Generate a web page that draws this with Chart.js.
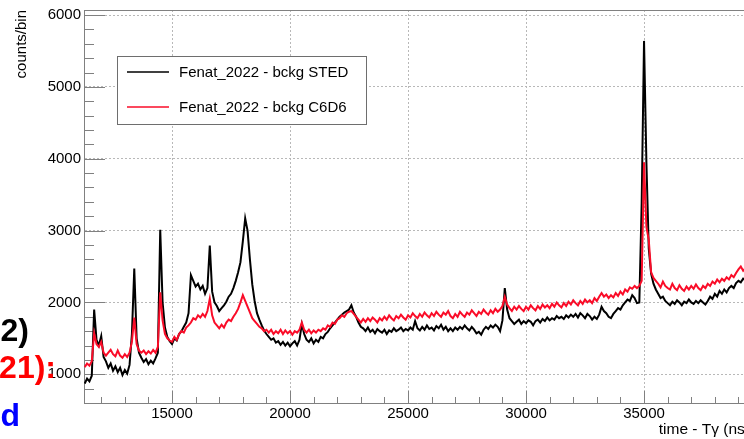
<!DOCTYPE html>
<html>
<head>
<meta charset="utf-8">
<script src="https://cdn.jsdelivr.net/npm/chart.js@4/dist/chart.umd.min.js"></script>
<style>
html, body { margin: 0; padding: 0; overflow: hidden; background: #fff; width: 744px; height: 439px; }
#wrap { position: absolute; left: 0; top: 0; width: 772px; height: 439px; }
.cut { position: absolute; width: 300px; text-align: right; white-space: nowrap;
       font-family: "Liberation Sans", Arial, sans-serif; font-weight: bold; font-size: 32px; line-height: 32px; }
</style>
</head>
<body>
<div id="wrap"><canvas id="myChart" width="772" height="439"></canvas></div>
<div class="cut" style="left:-271px; top:314px; color:#000;">2)</div>
<div class="cut" style="left:-244px; top:351px; color:#ff0000;">21):</div>
<div class="cut" style="left:-280px; top:399px; color:#0000ff;">d</div>
<script>
// histogram binning (ns)
const binStart = 11300;
const binWidth = 100;

// Fenat_2022 - bckg STED, counts per bin, 11300 .. 39500 ns
const stedCounts = [
  870, 940, 900, 980, 1900, 1480, 1400, 1530, 1240, 1180,
  1090, 1150, 1050, 1110, 1030, 1090, 990, 1060, 1010, 1130,
  1560, 2470, 1500, 1300, 1230, 1170, 1210, 1140, 1190, 1150,
  1220, 1300, 3010, 2000, 1650, 1520, 1460, 1420, 1500, 1470,
  1560, 1600, 1660, 1720, 1850, 2380, 2300, 2220, 2260, 2180,
  2230, 2120, 2200, 2790, 2150, 2000, 1950, 1880, 1920, 1960,
  2010, 2080, 2120, 2200, 2300, 2420, 2560, 2850, 3170, 3000,
  2600, 2250, 2020, 1850, 1760, 1680, 1610, 1560, 1520, 1480,
  1500, 1440, 1460, 1410, 1450, 1400, 1440, 1390, 1430, 1460,
  1400, 1480, 1700, 1560, 1480, 1450, 1500, 1430, 1480, 1450,
  1520, 1500, 1560, 1590, 1640, 1680, 1720, 1760, 1800, 1830,
  1860, 1880, 1900, 1960, 1860, 1800, 1720, 1660, 1640, 1600,
  1650, 1590, 1620, 1570, 1630, 1600, 1580, 1620, 1560, 1610,
  1590, 1640, 1600, 1620, 1650, 1600, 1630, 1610, 1650, 1620,
  1740, 1640, 1610, 1660, 1620, 1680, 1630, 1650, 1610, 1670,
  1640, 1690, 1620, 1660, 1600, 1640, 1600, 1650, 1620, 1660,
  1630, 1680, 1640, 1610, 1660, 1620, 1570, 1590, 1550, 1620,
  1660, 1630, 1680, 1650, 1690, 1660, 1600, 1750, 2200, 1900,
  1780, 1740, 1700, 1730, 1760, 1700, 1740, 1710, 1750, 1730,
  1680, 1740, 1760, 1720, 1770, 1740, 1790, 1750, 1780, 1760,
  1810, 1780, 1800, 1770, 1820, 1790, 1830, 1800, 1840, 1790,
  1850, 1820, 1780, 1840, 1810, 1760, 1800, 1770, 1830, 1940,
  1880, 1850, 1800, 1780, 1840, 1880, 1920, 1900, 1960, 2000,
  2040, 2020, 2100, 2060, 1990, 2000, 3380, 5640, 3950, 2750,
  2400, 2260, 2180, 2120, 2060, 2080, 2020, 1990, 1960, 2010,
  1980, 2030, 2000, 1960, 2010, 1990, 2040, 2000, 1980, 2020,
  1990, 2030, 2000, 1970, 2020, 2080, 2050, 2120, 2080, 2160,
  2120, 2180, 2140, 2200, 2230, 2200, 2270, 2300, 2280, 2330,
  2310, 2360, 2340
];

// Fenat_2022 - bckg C6D6, counts per bin, 11300 .. 39500 ns
const c6d6Counts = [
  1100, 1150, 1120, 1180, 1570, 1420, 1380, 1450, 1300, 1260,
  1300, 1340, 1280, 1250, 1330, 1260, 1230, 1280, 1240, 1300,
  1450, 1790, 1420, 1330, 1300, 1330, 1280, 1320, 1290, 1340,
  1300, 1380, 2140, 1750, 1560, 1500, 1470, 1450, 1520, 1480,
  1560, 1600, 1580, 1650, 1680, 1720, 1780, 1760, 1820, 1790,
  1840, 1800, 1880, 2050, 1820, 1720, 1680, 1640, 1690, 1650,
  1720, 1760, 1740, 1800, 1850, 1910, 2000, 2100, 2020, 1940,
  1860, 1780, 1740, 1700, 1660, 1640, 1600, 1620, 1580, 1620,
  1560, 1600, 1570, 1620, 1560, 1610, 1570, 1600, 1550, 1600,
  1580, 1620, 1720, 1620, 1580, 1620, 1570, 1610, 1580, 1620,
  1600, 1640, 1620, 1680, 1660, 1720, 1700, 1760, 1780, 1820,
  1800, 1850, 1870, 1880, 1840, 1800, 1760, 1720, 1770, 1730,
  1780, 1740, 1790, 1760, 1720, 1780, 1750, 1800, 1760, 1820,
  1780, 1750, 1810, 1780, 1830, 1790, 1760, 1820, 1790, 1850,
  1810, 1780, 1840, 1800, 1860, 1820, 1790, 1850, 1810, 1870,
  1830, 1800, 1860, 1830, 1880, 1810, 1780, 1840, 1800, 1870,
  1830, 1800, 1860, 1830, 1890, 1850, 1810, 1870, 1840, 1900,
  1860, 1830, 1890, 1850, 1910, 1870, 1900, 1950, 2080, 1970,
  1920, 1880, 1940, 1900, 1950, 1910, 1880, 1940, 1900, 1960,
  1920, 1890, 1950, 1910, 1970, 1930, 1960, 1920, 1980, 1940,
  2000, 1960, 1930, 1990, 1950, 2010, 1970, 2030, 1990, 1960,
  2020, 1980, 2040, 2000, 2030, 1990, 2060, 2020, 2080, 2130,
  2080, 2110, 2060, 2100, 2070, 2130, 2090, 2150, 2110, 2180,
  2150, 2210, 2190, 2230, 2200, 2230, 2300, 3950, 3050, 2870,
  2420, 2340, 2300, 2260, 2210, 2290, 2230, 2200, 2180, 2260,
  2200, 2170, 2240, 2190, 2160, 2220, 2180, 2230, 2190, 2250,
  2200, 2170, 2230, 2200, 2260, 2230, 2290, 2260, 2320, 2280,
  2330, 2300, 2350, 2320, 2380, 2350, 2410, 2460, 2500, 2440,
  2480, 2450, 2470
];

const seriesNames = ['Fenat_2022 - bckg STED', 'Fenat_2022 - bckg C6D6'];
const xTickValues = [15000, 20000, 25000, 30000, 35000];
const yTickValues = [1000, 2000, 3000, 4000, 5000, 6000];

const FONT = '"Liberation Sans", Arial, Helvetica, sans-serif';
Chart.defaults.font.family = FONT;
Chart.defaults.font.size = 15;
Chart.defaults.color = '#000';

function toPoints(counts) {
  return counts.map((v, i) => ({ x: binStart + i * binWidth, y: v }));
}

// ROOT style ticks drawn inside the frame + top frame line
const innerTicks = {
  id: 'innerTicks',
  beforeDatasetsDraw(chart) {
    const { ctx, chartArea: a, scales: { x, y } } = chart;
    ctx.save();
    ctx.strokeStyle = '#808080';
    ctx.lineWidth = 1;
    ctx.beginPath();
    for (let v = Math.ceil(y.min / 200) * 200; v <= y.max; v += 200) {
      const py = Math.round(y.getPixelForValue(v)) + 0.5;
      const len = v % 1000 === 0 ? 21 : 10;
      ctx.moveTo(a.left, py);
      ctx.lineTo(a.left + len, py);
    }
    for (let v = Math.ceil(x.min / 1000) * 1000; v <= x.max; v += 1000) {
      const px = Math.round(x.getPixelForValue(v)) + 0.5;
      const len = v % 5000 === 0 ? 12 : 6;
      ctx.moveTo(px, a.bottom);
      ctx.lineTo(px, a.bottom - len);
    }
    ctx.moveTo(a.left, Math.round(a.top) + 0.5);
    ctx.lineTo(a.right, Math.round(a.top) + 0.5);
    ctx.moveTo(Math.round(a.right) + 0.5, a.top);
    ctx.lineTo(Math.round(a.right) + 0.5, a.bottom);
    ctx.stroke();
    ctx.restore();
  }
};

// boxed legend inside the pad, like TLegend
const boxLegend = {
  id: 'boxLegend',
  afterDraw(chart) {
    const ctx = chart.ctx;
    const box = { x: 117.5, y: 56.5, w: 249, h: 68 };
    ctx.save();
    ctx.fillStyle = '#fff';
    ctx.fillRect(box.x, box.y, box.w, box.h);
    ctx.strokeStyle = '#6e6e6e';
    ctx.lineWidth = 1;
    ctx.strokeRect(box.x, box.y, box.w, box.h);
    const rows = [72, 107];
    chart.data.datasets.forEach((ds, i) => {
      ctx.strokeStyle = ds.borderColor;
      ctx.lineWidth = 1.5;
      ctx.beginPath();
      ctx.moveTo(127, rows[i]);
      ctx.lineTo(169, rows[i]);
      ctx.stroke();
      ctx.fillStyle = '#000';
      ctx.font = '15px ' + FONT;
      ctx.textBaseline = 'middle';
      ctx.textAlign = 'left';
      ctx.fillText(ds.label, 179, rows[i] + 0.5);
    });
    ctx.restore();
  }
};

const data = {
  datasets: [
    {
      label: seriesNames[0],
      data: toPoints(stedCounts),
      borderColor: '#000000',
      borderWidth: 2,
      pointRadius: 0,
      order: 1
    },
    {
      label: seriesNames[1],
      data: toPoints(c6d6Counts),
      borderColor: 'rgb(250,12,40)',
      borderWidth: 2,
      pointRadius: 0,
      order: 0
    }
  ]
};

const config = {
  type: 'line',
  data: data,
  options: {
    responsive: false,
    devicePixelRatio: 1,
    animation: false,
    events: [],
    layout: { padding: { left: 0, right: 22, top: 10, bottom: 0 } },
    plugins: {
      legend: { display: false },
      tooltip: { enabled: false }
    },
    scales: {
      x: {
        type: 'linear',
        min: 11270,
        max: 39490,
        afterBuildTicks: s => { s.ticks = xTickValues.map(v => ({ value: v })); },
        afterFit: s => { s.height = 36; s.paddingLeft = 0; s.paddingRight = 0; },
        ticks: { padding: 2, maxRotation: 0, autoSkip: false, callback: v => String(v) },
        grid: { color: '#b8b8b8', lineWidth: 1, drawTicks: false },
        border: { color: '#808080', width: 1, dash: [2, 2] },
        title: {
          display: true, text: 'time - Tγ (ns)', align: 'end',
          font: { size: 15.5 }, padding: { top: 0, bottom: 0 }
        }
      },
      y: {
        type: 'linear',
        min: 600,
        max: 6070,
        afterBuildTicks: s => { s.ticks = yTickValues.map(v => ({ value: v })); },
        afterFit: s => { s.width = 84; s.paddingTop = 0; s.paddingBottom = 0; },
        ticks: { padding: 3, callback: v => String(v) },
        grid: { color: '#b8b8b8', lineWidth: 1, drawTicks: false },
        border: { color: '#808080', width: 1, dash: [2, 2] },
        title: {
          display: true, text: 'counts/bin', align: 'end',
          font: { size: 15 }, padding: { top: 13, bottom: 0 }
        }
      }
    }
  },
  plugins: [innerTicks, boxLegend]
};

var myChart = new Chart(document.getElementById('myChart'), config);
</script>
</body>
</html>
